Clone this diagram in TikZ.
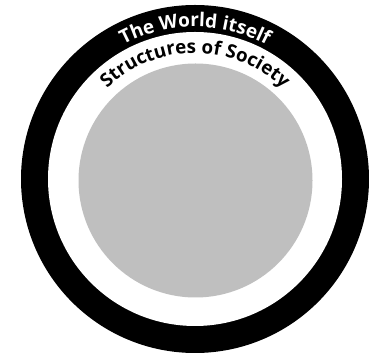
\documentclass[tikz,border=0pt]{standalone}
\usepackage{fontspec}
\setmainfont{Open Sans}
\usetikzlibrary{decorations.text}
\begin{document}
\begin{tikzpicture}[x=1pt,y=1pt,
  ringtext/.style={decorate, decoration={text along path, text align=center, text color=#1}}]
\useasboundingbox (0,0) rectangle (369,358);
\clip (0,0) rectangle (369,358);
\coordinate (c) at (195,179);
\coordinate (g) at (195.5,177.5);
\fill[black] (c) circle[radius=174];
\fill[white] (c) circle[radius=147];
\fill[black!25] (g) circle[radius=117];
\path[ringtext=white, decoration={text={|\fontsize{19}{19}\selectfont\bfseries|The World itself}}]
  (c) ++(150:152) arc[start angle=150, end angle=30, radius=152];
\path[ringtext=black, decoration={text={|\fontsize{18.8}{19}\selectfont\bfseries|Structures of Society}}]
  (c) ++(140:126) arc[start angle=140, end angle=40, radius=126];
\end{tikzpicture}
\end{document}
